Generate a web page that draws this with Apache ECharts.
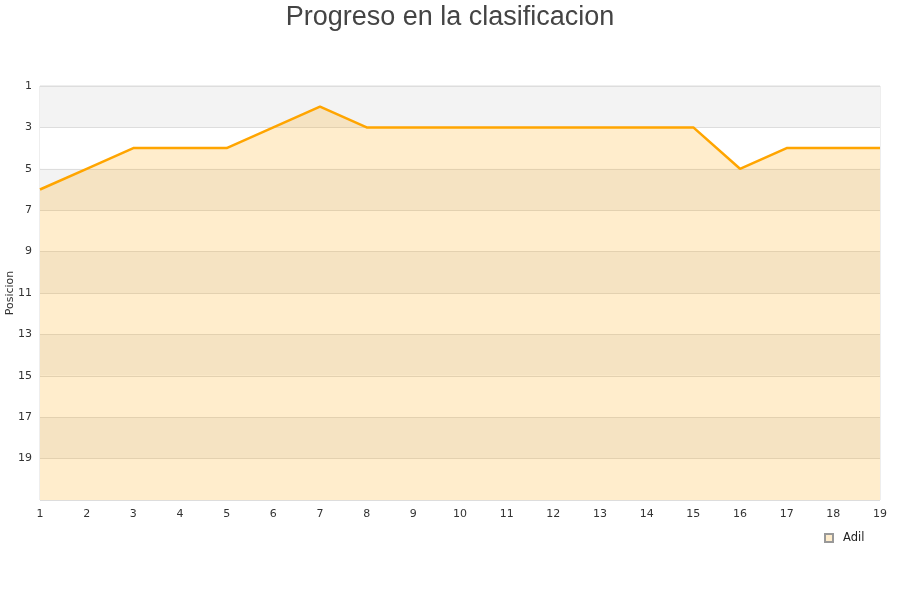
<!DOCTYPE html>
<html>
<head>
<meta charset="utf-8">
<script src="https://cdn.jsdelivr.net/npm/echarts@6/dist/echarts.min.js"></script>
<style>html,body{margin:0;padding:0;background:#fff}#c{width:900px;height:600px}</style>
</head>
<body>
<div id="c"></div>
<script>
var rounds = ['1','2','3','4','5','6','7','8','9','10','11','12','13','14','15','16','17','18','19'];
var positions = [6,5,4,4,4,3,2,3,3,3,3,3,3,3,3,5,4,4,4];
var seriesName = 'Adil';
var titleText = 'Progreso en la clasificacion';
var yName = 'Posicion';

var chart = echarts.init(document.getElementById('c'), null, {renderer:'canvas'});
chart.setOption({
  animation: false,
  title: {text: titleText, left: 'center', top: -1, textStyle: {fontFamily: 'Liberation Sans, Arial, sans-serif', fontSize: 27, fontWeight: 'normal', color: '#444'}},
  grid: {left: 40, right: 20, top: 86, bottom: 100, containLabel: false, outerBoundsMode: 'none', show: true, borderColor: '#ddd', borderWidth: 1, backgroundColor: 'transparent'},
  legend: {data: [{name: seriesName, icon: 'rect'}], left: 819, top: 527, itemWidth: 8, itemHeight: 8, itemGap: 8,
    textStyle: {fontFamily: 'DejaVu Sans, sans-serif', fontSize: 11.5, color: '#222', padding: [0, 0, 0, 5]}},
  xAxis: {type: 'category', data: rounds, boundaryGap: false,
    axisLine: {show: false}, axisTick: {show: false},
    axisLabel: {fontFamily: 'DejaVu Sans, sans-serif', fontSize: 11, color: '#333', margin: 9, interval: 0},
    splitLine: {show: false}},
  yAxis: {type: 'value', inverse: true, min: 1, max: 21, interval: 2,
    name: yName, nameLocation: 'middle', nameGap: 24, nameRotate: 90, nameMoveOverlap: false,
    nameTextStyle: {fontFamily: 'DejaVu Sans, sans-serif', fontSize: 11, color: '#333'},
    axisLine: {show: false}, axisTick: {show: false},
    axisLabel: {fontFamily: 'DejaVu Sans, sans-serif', fontSize: 11, color: '#333', margin: 8, showMaxLabel: false,
      formatter: function(v){ return v === 21 ? '' : String(v); }},
    splitLine: {show: true, lineStyle: {color: '#ddd', width: 1}},
    splitArea: {show: true, areaStyle: {color: ['#f3f3f3', '#ffffff']}}},
  series: [{
    name: seriesName, type: 'line', data: positions, showSymbol: false, symbol: 'none',
    lineStyle: {color: '#ffa500', width: 2.5},
    itemStyle: {color: '#ffedcc', borderColor: '#999', borderWidth: 1},
    areaStyle: {color: '#ffa500', opacity: 0.2, origin: 'end'}
  }]
});
</script>
</body>
</html>
